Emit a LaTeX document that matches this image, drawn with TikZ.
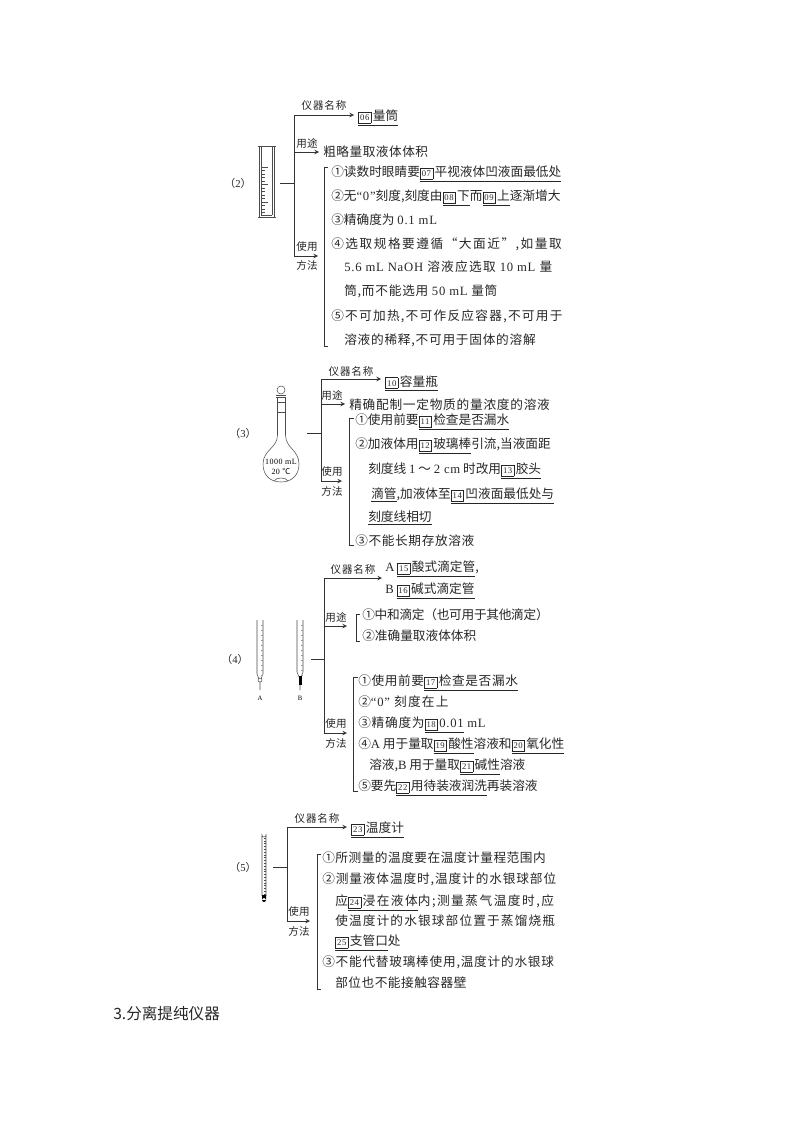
\documentclass[tikz,border=0pt]{standalone}
\usepackage{fontspec}
\setmainfont{Noto Sans CJK SC}
\newfontfamily\lat[LetterSpace=6]{Liberation Serif}
\newcommand{\lsp}[1]{\addfontfeature{LetterSpace=#1}}
\newcommand{\uln}[1]{\underline{#1}}
\newcommand{\numbox}[1]{{\setlength{\fboxsep}{0.4pt}\setlength{\fboxrule}{0.3pt}\raisebox{-0.2pt}{\fbox{\makebox[8.4pt]{\lat\fontsize{6.5pt}{7pt}\selectfont\rule[-1pt]{0pt}{7pt}#1}}}\kern1.2pt}}
\tikzset{
  txt/.style={anchor=west, inner sep=0pt, text=black!85,
    font=\fontsize{9.5pt}{11pt}\selectfont, text height=8pt, text depth=2.5pt},
  res/.style={txt, text height=#1},
  lab/.style={inner sep=0pt, text=black!85, font=\fontsize{7.9pt}{9pt}\selectfont},
  tag/.style={inner sep=0pt, text=black!85, font=\fontsize{8pt}{9pt}\selectfont},
  conn/.style={draw=black!80, line width=0.55pt},
  arr/.style={conn, ->, >=stealth, shorten >=3pt},
  brk/.style={draw=black!80, line width=0.5pt},
  inst/.style={draw=black!70, line width=0.4pt}
}
\begin{document}
\begin{tikzpicture}[x=0.75pt, y=-0.75pt]
  \useasboundingbox (0,0) rectangle (794,1123);

  % (2) measuring cylinder
  \node[tag] (t2) at (238,183) {（{\lat 2}）};
  \draw[inst] (258,146) -- (276,146) (259,146) -- (259,217) (261,147) -- (261,215)
    (272,147) -- (272,215) (274,146) -- (274,217) (257.5,217) -- (275.5,217) (261,215) -- (272,215);
  \foreach \i in {0,...,13} {
    \pgfmathsetmacro{\tk}{mod(\i,5)==0 ? 268 : 265}
    \draw[inst] (261,167+3.5*\i) -- (\tk,167+3.5*\i);
  }
  \coordinate (s2) at (280,183);
  \coordinate (j2) at (294,183);
  \node[res=11pt] (r2) at (358,115) {\uln{\numbox{06}量筒}};
  \node[lab] (a2) at (324,105) {\lsp{8}仪器名称};
  \node[lab] (b2) at (307,143) {用途};
  \node[res=10pt] (u2) at (323,152) {\lsp{4}粗略量取液体体积};
  \node[lab] (c2) at (307,247) {使用};
  \node[lab] (d2) at (307,265) {方法};
  \coordinate (e2) at (322,256);
  \draw[conn] (s2) -- (j2);
  \draw[arr] (j2) |- (r2);
  \draw[arr] (j2) |- (u2);
  \draw[arr] (j2) |- (e2);
  \coordinate (k2a) at (328,167);
  \coordinate (k2b) at (328,346);
  \draw[brk] (k2a) -- ++(-4,0) |- (k2b);
  \node[txt] (l21) at (331,173) {①读数时眼睛要\uln{\numbox{07}平视液体凹液面最低处}};
  \node[txt] (l22) at (331,197) {②无{\lat“0”}刻度,刻度由\uln{\numbox{08}下}而\uln{\numbox{09}上}逐渐增大};
  \node[txt] (l23) at (331,221) {③精确度为 {\lat 0.1 mL}};
  \node[txt] (l24) at (331,245) {\lsp{12}④选取规格要遵循“大面近”,如量取};
  \node[txt] (l25) at (344,268) {\lsp{10}{\lat 5.6 mL NaOH} 溶液应选取 {\lat 10 mL} 量};
  \node[txt] (l26) at (344,292) {\lsp{6}筒,而不能选用 {\lat 50 mL} 量筒};
  \node[txt] (l27) at (331,317) {\lsp{10}⑤不可加热,不可作反应容器,不可用于};
  \node[txt] (l28) at (344,341) {\lsp{6}溶液的稀释,不可用于固体的溶解};

  % (3) volumetric flask
  \node[tag] (t3) at (243,433) {（{\lat 3}）};
  \draw[inst] (281,390) circle (4);
  \draw[inst] (276,395) -- (286,395) (276,397) -- (286,397) (277.5,402) -- (285.5,402) (277.5,412) -- (285.5,412);
  \draw[inst] (277.5,397) -- (277.5,435) .. controls (277.5,448) and (263,450) .. (263,464)
    .. controls (263,475) and (270,482) .. (281,482) .. controls (292,482) and (299,475) .. (299,464)
    .. controls (299,450) and (285.5,448) .. (285.5,435) -- (285.5,397);
  \draw[inst] (274,481) .. controls (276,477) and (286,477) .. (288,481);
  \node[inner sep=0pt, font=\lat\fontsize{6pt}{7pt}\selectfont] (f3a) at (281,462) {1000 mL};
  \node[inner sep=0pt, font=\lat\fontsize{6pt}{7pt}\selectfont] (f3b) at (281,471) {20 {\rmfamily ℃}};
  \coordinate (s3) at (307,433);
  \coordinate (j3) at (321,433);
  \node[res=13pt] (r3) at (385,379) {\uln{\numbox{10}容量瓶}};
  \node[lab] (a3) at (351,371) {\lsp{8}仪器名称};
  \node[lab] (b3) at (332,395) {用途};
  \node[res=10pt] (u3) at (349,404) {\lsp{6}精确配制一定物质的量浓度的溶液};
  \node[lab] (c3) at (332,472) {使用};
  \node[lab] (d3) at (332,491) {方法};
  \coordinate (e3) at (346,481);
  \draw[conn] (s3) -- (j3);
  \draw[arr] (j3) |- (r3);
  \draw[arr] (j3) |- (u3);
  \draw[arr] (j3) |- (e3);
  \coordinate (k3a) at (354,418);
  \coordinate (k3b) at (354,545);
  \draw[brk] (k3a) -- ++(-5,0) |- (k3b);
  \node[txt] (l31) at (355,421) {①使用前要\uln{\numbox{11}检查是否漏水}};
  \node[txt] (l32) at (355,445) {②加液体用\uln{\numbox{12}玻璃棒}引流,当液面距};
  \node[txt] (l33) at (368,470) {刻度线 {\lat 1} ～ {\lat 2 cm} 时改用\uln{\numbox{13}胶头}};
  \node[txt] (l34) at (371,495) {\uln{滴管},加液体至\uln{\numbox{14}凹液面最低处与}};
  \node[txt] (l35) at (368,518) {\uln{刻度线相切}};
  \node[txt] (l36) at (355,542) {\lsp{5}③不能长期存放溶液};

  % (4) burettes
  \node[tag] (t4) at (235,659) {（{\lat 4}）};
  \draw[inst] (257,620) -- (257,674) -- (259,679) (263,620) -- (263,674) -- (261,679) (260,682) -- (260,690);
  \draw[inst] (260,680) circle (2);
  \draw[inst] (297,620) -- (297,672) -- (299,677) (303,620) -- (303,672) -- (301,677) (300,685) -- (300,690);
  \fill[black] (298.5,676) rectangle (301.5,685);
  \foreach \i in {0,...,10} {
    \draw[inst, draw=black!40] (260.5,625+5*\i) -- (263,625+5*\i);
    \draw[inst, draw=black!40] (300.5,625+5*\i) -- (303,625+5*\i);
  }
  \node[inner sep=0pt, font=\lat\fontsize{5pt}{6pt}\selectfont] (n4a) at (260,698) {A};
  \node[inner sep=0pt, font=\lat\fontsize{5pt}{6pt}\selectfont] (n4b) at (300,698) {B};
  \coordinate (s4) at (311,659);
  \coordinate (j4) at (324,659);
  \coordinate (e4a) at (386,578);
  \coordinate (e4b) at (351,626);
  \coordinate (e4c) at (351,733);
  \node[lab] (a4) at (353,569) {\lsp{8}仪器名称};
  \node[txt] (r4a) at (385,568) {{\lat A} \uln{\numbox{15}酸式滴定管},};
  \node[txt] (r4b) at (385,590) {{\lat B} \uln{\numbox{16}碱式滴定管}};
  \node[lab] (b4) at (336,617) {用途};
  \node[lab] (c4) at (336,724) {使用};
  \node[lab] (d4) at (336,743) {方法};
  \draw[conn] (s4) -- (j4);
  \draw[arr] (j4) |- (e4a);
  \draw[arr] (j4) |- (e4b);
  \draw[arr] (j4) |- (e4c);
  \coordinate (k4a) at (360,614);
  \coordinate (k4b) at (360,641);
  \draw[brk] (k4a) -- ++(-4,0) |- (k4b);
  \node[txt] (u41) at (362,616) {\lsp{-2}①中和滴定（也可用于其他滴定）};
  \node[txt] (u42) at (362,637) {②准确量取液体体积};
  \coordinate (k4c) at (358,677);
  \coordinate (k4d) at (358,791);
  \draw[brk] (k4c) -- ++(-5,0) |- (k4d);
  \node[txt] (l41) at (358,682) {\lsp{5}①使用前要\uln{\numbox{17}检查是否漏水}};
  \node[txt] (l42) at (358,703) {\lsp{10}②{\lat“0”} 刻度在上};
  \node[txt] (l43) at (358,724) {\lsp{6}③精确度为\uln{\numbox{18}{\lat 0.01}} {\lat mL}};
  \node[txt] (l44) at (358,745) {④{\lat A} 用于量取\uln{\numbox{19}酸性}溶液和\uln{\numbox{20}氧化性}};
  \node[txt] (l45) at (369,766) {溶液,{\lat B} 用于量取\uln{\numbox{21}碱性}溶液};
  \node[txt] (l46) at (358,787) {⑤要先\uln{\numbox{22}用待装液润洗}再装溶液};

  % (5) thermometer
  \node[tag] (t5) at (243,867) {（{\lat 5}）};
  \draw[inst] (262,896) -- (262,835) arc (180:0:2) -- (266,896);
  \foreach \i in {0,...,20} {
    \draw[inst] (264,838+2.8*\i) -- (266,838+2.8*\i);
  }
  \fill[black] (262,895) rectangle (266,900) (264,900) circle (2);
  \coordinate (s5) at (273,867);
  \coordinate (j5) at (287,867);
  \node[res=11pt] (r5) at (351,827) {\uln{\numbox{23}温度计}};
  \node[lab] (a5) at (317,818) {\lsp{8}仪器名称};
  \node[lab] (c5) at (299,912) {使用};
  \node[lab] (d5) at (299,931) {方法};
  \coordinate (e5) at (314,921);
  \draw[conn] (s5) -- (j5);
  \draw[arr] (j5) |- (r5);
  \draw[arr] (j5) |- (e5);
  \coordinate (k5a) at (321,854);
  \coordinate (k5b) at (321,989);
  \draw[brk] (k5a) -- ++(-4,0) |- (k5b);
  \node[txt] (l51) at (322,859) {\lsp{4}①所测量的温度要在温度计量程范围内};
  \node[txt] (l52) at (322,880) {\lsp{7}②测量液体温度时,温度计的水银球部位};
  \node[txt] (l53) at (335,902) {\lsp{12}应\uln{\numbox{24}浸在液体}内;测量蒸气温度时,应};
  \node[txt] (l54) at (335,922) {\lsp{9}使温度计的水银球部位置于蒸馏烧瓶};
  \node[txt] (l55) at (335,942) {\uln{\numbox{25}支管口}处};
  \node[txt] (l56) at (322,963) {\lsp{6}③不能代替玻璃棒使用,温度计的水银球};
  \node[txt] (l57) at (335,984) {\lsp{4}部位也不能接触容器壁};

  \node[anchor=west, inner sep=0pt, text=black!85, font=\fontsize{11.7pt}{13pt}\selectfont] (h3) at (113,1014) {3.分离提纯仪器};
\end{tikzpicture}
\end{document}
